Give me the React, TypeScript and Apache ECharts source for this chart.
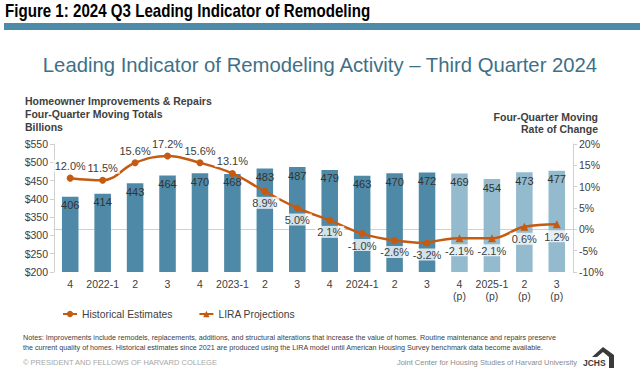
import React, { useEffect, useRef } from "react";
import * as echarts from "echarts";

const categories = ["4", "2022-1", "2", "3", "4", "2023-1", "2", "3", "4", "2024-1", "2", "3", "4\n(p)", "2025-1\n(p)", "2\n(p)", "3\n(p)"];
const spending = [406, 414, 443, 464, 470, 468, 483, 487, 479, 463, 470, 472, 469, 454, 473, 477];
const rateOfChange = [12.0, 11.5, 15.6, 17.2, 15.6, 13.1, 8.9, 5.0, 2.1, -1.0, -2.6, -3.2, -2.1, -2.1, 0.6, 1.2];
const historicalCount = 12;
const leftTicks = { min: 200, max: 550, interval: 50 };
const rightTicks = { min: -10, max: 20, interval: 5 };

const FONT = "'Liberation Sans', Arial, sans-serif";
const DARK_BAR = "#4e8aa7";
const LIGHT_BAR = "#93bbcd";
const ORANGE = "#c55a11";
const TEXT = "#404040";

export default function App() {
  const ref = useRef<HTMLDivElement>(null);
  useEffect(() => {
    const chart = echarts.init(ref.current!, null, { renderer: "svg" });
    const labelAbove = (i: number) => i < 6;
    const lineLabel = (i: number) => ({
      show: true,
      position: labelAbove(i) ? "top" : "bottom",
      distance: labelAbove(i) ? 3 : 2,
      formatter: (p: any) => p.value.toFixed(1) + "%",
      color: TEXT,
      fontSize: 11,
      fontFamily: FONT,
      backgroundColor: "rgba(255,255,255,0.75)",
      padding: [1, 2, 0, 2],
    });
    const histData = rateOfChange.map((v, i) =>
      i < historicalCount ? { value: v, label: lineLabel(i) } : null
    );
    const projData = rateOfChange.map((v, i) => {
      if (i < historicalCount - 1) return null;
      if (i === historicalCount - 1) return { value: v, symbol: "none", label: { show: false } };
      return { value: v, label: lineLabel(i) };
    });
    const barData = spending.map((v, i) => ({
      value: v,
      itemStyle: { color: i < historicalCount ? DARK_BAR : LIGHT_BAR },
    }));

    chart.setOption({
      animation: false,
      textStyle: { fontFamily: FONT },
      grid: { left: 54, right: 70, top: 144, bottom: 103 },
      legend: {
        left: 57,
        top: 304,
        itemWidth: 14,
        itemHeight: 8,
        itemGap: 26,
        textStyle: { color: TEXT, fontSize: 10.3, fontFamily: FONT },
        data: ["Historical Estimates", "LIRA Projections"],
      },
      xAxis: {
        type: "category",
        data: categories,
        axisLine: { lineStyle: { color: "#d0d0d0" } },
        axisTick: { lineStyle: { color: "#d0d0d0" }, length: 4 },
        axisLabel: { color: TEXT, fontSize: 10.5, fontFamily: FONT, margin: 6, lineHeight: 12, interval: 0 },
      },
      yAxis: [
        {
          type: "value",
          min: leftTicks.min,
          max: leftTicks.max,
          interval: leftTicks.interval,
          axisLine: { show: true, lineStyle: { color: "#d0d0d0" } },
          axisTick: { show: true, lineStyle: { color: "#d0d0d0" }, length: 4 },
          splitLine: { show: false },
          axisLabel: { color: TEXT, fontSize: 10.5, fontFamily: FONT, formatter: (v: number) => "$" + v, margin: 6 },
        },
        {
          type: "value",
          min: rightTicks.min,
          max: rightTicks.max,
          interval: rightTicks.interval,
          position: "right",
          axisLine: { show: true, lineStyle: { color: "#d0d0d0" } },
          axisTick: { show: true, lineStyle: { color: "#d0d0d0" }, length: 4 },
          splitLine: { show: false },
          axisLabel: { color: TEXT, fontSize: 10.5, fontFamily: FONT, formatter: (v: number) => v + "%", margin: 6 },
        },
      ],
      series: [
        {
          type: "bar",
          name: "Spending",
          yAxisIndex: 0,
          barWidth: "51%",
          data: barData,
          z: 1,
          label: {
            show: true,
            position: "insideTop",
            distance: 3,
            color: "#333333",
            fontSize: 11,
            fontFamily: FONT,
          },
        },
        {
          type: "line",
          name: "Historical Estimates",
          yAxisIndex: 1,
          data: histData,
          smooth: 0.4,
          symbol: "circle",
          symbolSize: 7,
          lineStyle: { color: ORANGE, width: 2.5 },
          itemStyle: { color: ORANGE },
          z: 5,
        },
        {
          type: "line",
          name: "LIRA Projections",
          yAxisIndex: 1,
          data: projData,
          smooth: 0.4,
          symbol: "triangle",
          symbolSize: 8,
          lineStyle: { color: ORANGE, width: 2.5 },
          itemStyle: { color: ORANGE },
          z: 5,
        },
      ],
      graphic: [
        {
          type: "text",
          x: 5,
          y: 2,
          scaleX: 0.84,
          style: { text: "Figure 1: 2024 Q3 Leading Indicator of Remodeling", fill: "#000", font: "bold 18px " + FONT },
        },
        { type: "rect", shape: { x: 4, y: 23, width: 636, height: 7 }, style: { fill: "#4d8ba8" } },
        {
          type: "text",
          x: 320,
          y: 65,
          style: {
            text: "Leading Indicator of Remodeling Activity – Third Quarter 2024",
            fill: "#3e7087",
            font: "20.3px " + FONT,
            align: "center",
            verticalAlign: "middle",
          },
        },
        {
          type: "text",
          x: 25,
          y: 95,
          style: {
            text: "Homeowner Improvements & Repairs\nFour-Quarter Moving Totals\nBillions",
            fill: "#404040",
            font: "bold 10.5px " + FONT,
            lineHeight: 12.8,
          },
        },
        {
          type: "text",
          x: 598,
          y: 111,
          style: {
            text: "Four-Quarter Moving\nRate of Change",
            fill: "#404040",
            font: "bold 10.5px " + FONT,
            lineHeight: 12,
            align: "right",
          },
        },
        {
          type: "text",
          x: 23,
          y: 332,
          style: {
            text:
              "Notes: Improvements include remodels, replacements, additions, and structural alterations that increase the value of homes. Routine maintenance and repairs preserve\nthe current quality of homes. Historical estimates since 2021 are produced using the LIRA model until American Housing Survey benchmark data become available.",
            fill: "#404040",
            font: "7.2px " + FONT,
            lineHeight: 10,
          },
        },
        {
          type: "text",
          x: 23,
          y: 358,
          style: { text: "© PRESIDENT AND FELLOWS OF HARVARD COLLEGE", fill: "#a6a6a6", font: "7.5px " + FONT },
        },
        {
          type: "text",
          x: 577,
          y: 358,
          style: { text: "Joint Center for Housing Studies of Harvard University", fill: "#8c8c8c", font: "7.5px " + FONT, align: "right" },
        },
        {
          type: "polygon",
          shape: { points: [[603, 347], [614, 355], [614, 368], [609, 368], [609, 357], [603, 352], [597, 357], [592, 357]] },
          style: { fill: "#3a3a3a" },
        },
        {
          type: "text",
          x: 583,
          y: 358,
          style: { text: "JCHS", fill: "#3a3a3a", font: "bold 8.5px " + FONT },
        },
      ],
    });
    return () => chart.dispose();
  }, []);
  return <div ref={ref} style={{ position: "absolute", left: 0, top: 0, width: 643, height: 375 }} />;
}
